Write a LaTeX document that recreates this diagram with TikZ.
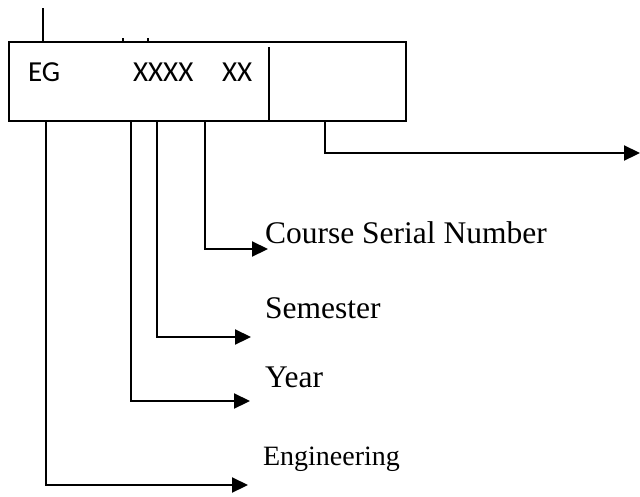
\documentclass[tikz,border=0pt]{standalone}
\usepackage{fontspec}
\setmainfont{Liberation Serif}
\newfontfamily\codefont{Carlito}
\usetikzlibrary{arrows.meta}

\begin{document}
\begin{tikzpicture}[x=1pt, y=-1pt, line width=2.2pt, >={Triangle[length=16pt,width=15pt]},
	every node/.style={inner sep=0pt},
	field/.style={font=\codefont\fontsize{29}{32}\selectfont, anchor=base west},
	meaning/.style={font=\fontsize{31.5}{34}\selectfont, anchor=base west}]
	\useasboundingbox (0,0) rectangle (640,496);
	\node[draw, anchor=north west, minimum width=397pt, minimum height=79pt] (code) at (8,41) {};
	\draw (269,47) -- (269,120);
	\draw (43,8) -- (43,41);
	\draw[line width=1.5pt] (123,38) -- (123,41) (148,38) -- (148,41);
	\node[field] (eg) at (27,81) {EG};
	\node[field] (yr) at (132,81) {XXXX};
	\node[field] (sn) at (221,81) {XX};
	\node[meaning] (csn) at (264,243) {Course Serial Number};
	\node[meaning] (sem) at (264,318) {Semester};
	\node[meaning] (year) at (264,387) {Year};
	\node[meaning, font=\fontsize{28}{32}\selectfont] (eng) at (262,465) {Engineering};
	\coordinate (toext) at (640,153);
	\coordinate (tocsn) at (268,249);
	\coordinate (tosem) at (251,337);
	\coordinate (toyear) at (250,401);
	\coordinate (toeng) at (248,485);
	\draw[->] (code.south west -| 325,0) |- (toext);
	\draw[->] (code.south west -| 205,0) |- (tocsn);
	\draw[->] (code.south west -| 157,0) |- (tosem);
	\draw[->] (code.south west -| 131,0) |- (toyear);
	\draw[->] (code.south west -| 46,0) |- (toeng);
\end{tikzpicture}
\end{document}
